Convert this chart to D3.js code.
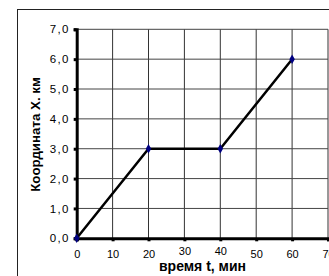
<!DOCTYPE html>
<html>
<head>
<meta charset="utf-8">
<script src="https://cdn.jsdelivr.net/npm/d3@7"></script>
<style>
  body { margin: 0; background: #fff; }
  svg { display: block; font-family: Arial, "Liberation Sans", sans-serif; }
</style>
</head>
<body>
<div id="chart"></div>
<script>
var timeMin = [0, 20, 40, 60];
var coordKm = [0, 3, 3, 6];
var xTicks = [0, 10, 20, 30, 40, 50, 60, 70];
var yTicks = [0, 1, 2, 3, 4, 5, 6, 7];
var xTitle = "время t, мин";
var yTitle = "Координата X. км";

var width = 329, height = 276;
var plotLeft = 76.7, plotRight = 328, plotTop = 29.3, plotBottom = 238.3;

var svg = d3.select("#chart").append("svg")
  .attr("width", width).attr("height", height);

// outer chart border (cut off at right / bottom like the reference)
svg.append("rect")
  .attr("x", 17.5).attr("y", 9.5)
  .attr("width", 400).attr("height", 400)
  .attr("fill", "none").attr("stroke", "#222").attr("stroke-width", 1);

var x = d3.scaleLinear().domain([0, 70]).range([plotLeft, plotRight]);
var y = d3.scaleLinear().domain([0, 7]).range([plotBottom, plotTop]);

// grid
svg.append("g").selectAll("line.v")
  .data(xTicks.slice(1))
  .enter().append("line")
  .attr("x1", d => x(d)).attr("x2", d => x(d))
  .attr("y1", plotTop).attr("y2", plotBottom)
  .attr("stroke", "#333").attr("stroke-width", 1);

svg.append("g").selectAll("line.h")
  .data(yTicks.slice(1))
  .enter().append("line")
  .attr("x1", plotLeft).attr("x2", plotRight)
  .attr("y1", d => y(d)).attr("y2", d => y(d))
  .attr("stroke", "#444").attr("stroke-width", 1);

// axes
var fmt = d => d.toFixed(1).replace(".", ",");

var yAxis = svg.append("g")
  .attr("transform", "translate(" + plotLeft + ",0)")
  .call(d3.axisLeft(y).tickValues(yTicks).tickFormat(fmt).tickSize(3).tickPadding(4));
yAxis.select(".domain").attr("stroke", "#000").attr("stroke-width", 3);
yAxis.selectAll(".tick line").attr("stroke", "#000").attr("stroke-width", 3);
yAxis.selectAll("text").attr("font-size", 11.5).attr("fill", "#000")
  .attr("letter-spacing", 1.3)
  .attr("font-family", "Arial, 'Liberation Sans', sans-serif");

var xAxis = svg.append("g")
  .attr("transform", "translate(0," + plotBottom + ")")
  .call(d3.axisBottom(x).tickValues(xTicks).tickFormat(d3.format("d")).tickSize(3).tickPadding(9));
xAxis.select(".domain").attr("stroke", "#000").attr("stroke-width", 3);
xAxis.selectAll(".tick line").attr("stroke", "#000").attr("stroke-width", 3);
xAxis.selectAll("text").attr("font-size", 11).attr("fill", "#000")
  .attr("font-family", "Arial, 'Liberation Sans', sans-serif");
// labels sitting just above the title are nudged up a little, as in the original
xAxis.selectAll(".tick text").filter(d => d === 30 || d === 40).attr("dy", "0.4em");

// data line
var pts = timeMin.map((t, i) => [t, coordKm[i]]);
svg.append("path")
  .datum(pts)
  .attr("fill", "none")
  .attr("stroke", "#000")
  .attr("stroke-width", 2.5)
  .attr("d", d3.line().x(d => x(d[0])).y(d => y(d[1])));

svg.append("g").selectAll("path.m")
  .data(pts)
  .enter().append("path")
  .attr("transform", d => "translate(" + x(d[0]) + "," + y(d[1]) + ")")
  .attr("d", d3.symbol().type(d3.symbolDiamond).size(26))
  .attr("fill", "#000080");

// titles
svg.append("text")
  .attr("x", 202.5).attr("y", 270.5)
  .attr("text-anchor", "middle")
  .attr("font-size", 14).attr("font-weight", "bold")
  .text(xTitle);

svg.append("text")
  .attr("transform", "translate(40,134.5) rotate(-90)")
  .attr("text-anchor", "middle")
  .attr("font-size", 13.3).attr("font-weight", "bold")
  .text(yTitle);
</script>
</body>
</html>
